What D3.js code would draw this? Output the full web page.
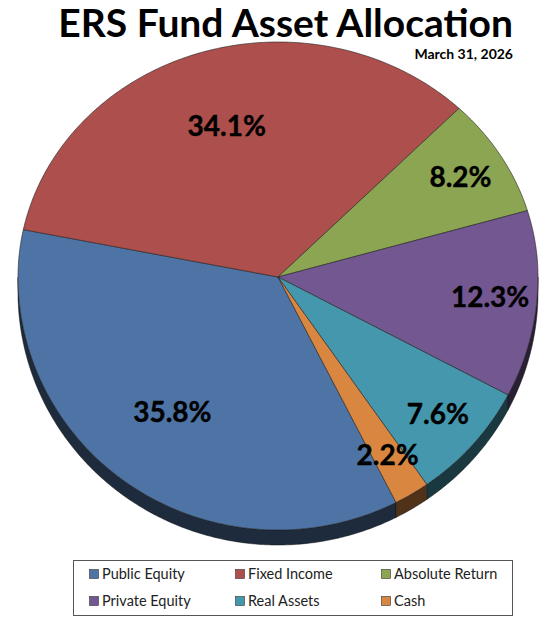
<!DOCTYPE html>
<html>
  <head>
    <meta charset="utf-8">
    <title></title>
    <script src="https://d3js.org/d3.v7.min.js"></script>
  </head>

  <style>
    body {
      margin: 0;
      background-color: #ffffff;
    }
    .title {
      font-family: 'Lato', sans-serif;
      font-weight: bold;
      fill: #000;
    }
    .legend text {
      font-family: 'Lato', sans-serif;
      font-size: 14.5px;
      fill: #222;
    }
  </style>

  <body>
    <div id="chart"></div>
    <script>

    // chart data
    var categories = ['Public Equity', 'Fixed Income', 'Absolute Return', 'Private Equity', 'Real Assets', 'Cash'];
    var values = [35.8, 34.1, 8.2, 12.3, 7.6, 2.2];
    var labels = ['35.8%', '34.1%', '8.2%', '12.3%', '7.6%', '2.2%'];
    var colors = ['#4e74a6', '#ad4f4c', '#8ca553', '#735791', '#4497ad', '#d98740'];

    var width = 556, height = 619;
    // tilted pie geometry (top half a bit flatter than bottom half)
    var cx = 278, cy = 277;
    var rx = 260, ryTop = 235, ryBot = 253;
    var depth = 15;
    var startDeg = 153;

    var svg = d3.select('#chart').append('svg')
      .attr('width', width)
      .attr('height', height);

    // angle measured clockwise from 12 o'clock
    function pt(a, r, dz) {
      var c = Math.cos(a), s = Math.sin(a);
      return [cx + rx * r * s, cy - (c > 0 ? ryTop : ryBot) * r * c + (dz || 0)];
    }

    function arcPoints(a0, a1, dz) {
      var n = Math.max(2, Math.ceil((a1 - a0) / 0.01));
      var out = [];
      for (var i = 0; i <= n; i++) {
        out.push(pt(a0 + (a1 - a0) * i / n, 1, dz));
      }
      return out;
    }

    var pie = d3.pie()
      .sort(null)
      .value(function(d) { return d; })
      .startAngle(startDeg * Math.PI / 180)
      .endAngle(startDeg * Math.PI / 180 + 2 * Math.PI);

    var arcs = pie(values);
    var line = d3.line();

    // side walls - only front half (90deg..270deg) is visible
    var sides = [];
    arcs.forEach(function(d, i) {
      [[Math.PI / 2, 3 * Math.PI / 2], [5 * Math.PI / 2, 7 * Math.PI / 2]].forEach(function(w) {
        var b0 = Math.max(d.startAngle, w[0]), b1 = Math.min(d.endAngle, w[1]);
        if (b1 > b0) sides.push({ i: i, b0: b0, b1: b1 });
      });
    });

    svg.append('g').selectAll('path')
      .data(sides)
      .enter().append('path')
      .attr('d', function(s) {
        var top = arcPoints(s.b0, s.b1, 0);
        var bot = arcPoints(s.b0, s.b1, depth).reverse();
        return line(top.concat(bot)) + 'Z';
      })
      .attr('fill', function(s) { return d3.color(colors[s.i]).darker(2.8); })
      .attr('stroke', '#111')
      .attr('stroke-width', 0.5);

    // top faces
    svg.append('g').selectAll('path')
      .data(arcs)
      .enter().append('path')
      .attr('d', function(d) {
        return line([[cx, cy]].concat(arcPoints(d.startAngle, d.endAngle, 0))) + 'Z';
      })
      .attr('fill', function(d, i) { return colors[i]; })
      .attr('stroke', '#222')
      .attr('stroke-width', 0.6);

    // data labels
    svg.append('g').selectAll('text')
      .data(arcs)
      .enter().append('text')
      .attr('x', function(d) { return pt((d.startAngle + d.endAngle) / 2, d.value > 20 ? 0.67 : 0.82)[0]; })
      .attr('y', function(d) { return pt((d.startAngle + d.endAngle) / 2, d.value > 20 ? 0.67 : 0.82)[1]; })
      .attr('dy', '0.35em')
      .attr('text-anchor', 'middle')
      .style('font-family', 'Lato, sans-serif')
      .style('font-weight', 'bold')
      .style('font-size', '28px')
      .style('stroke', '#000')
      .style('stroke-width', 0.4)
      .text(function(d, i) { return labels[i]; });

    // titles
    svg.append('text')
      .attr('class', 'title')
      .attr('x', 513)
      .attr('y', 37)
      .attr('text-anchor', 'end')
      .style('font-size', '39px')
      .text('ERS Fund Asset Allocation');

    svg.append('text')
      .attr('class', 'title')
      .attr('x', 513)
      .attr('y', 59)
      .attr('text-anchor', 'end')
      .style('font-size', '14px')
      .text('March 31, 2026');

    // legend
    var legend = svg.append('g').attr('class', 'legend');
    legend.append('rect')
      .attr('x', 73.5).attr('y', 560.5)
      .attr('width', 439).attr('height', 55)
      .attr('fill', 'white')
      .attr('stroke', '#555')
      .attr('stroke-width', 1);

    var colX = [89, 235, 381];
    var rowY = [574, 601];
    var items = legend.selectAll('g.item')
      .data(categories)
      .enter().append('g')
      .attr('class', 'item')
      .attr('transform', function(d, i) {
        return 'translate(' + colX[i % 3] + ',' + rowY[Math.floor(i / 3)] + ')';
      });
    items.append('rect')
      .attr('x', 0.5).attr('y', -4.5)
      .attr('width', 9).attr('height', 9)
      .attr('fill', function(d, i) { return colors[i]; })
      .attr('stroke', '#333')
      .attr('stroke-width', 0.6);
    items.append('text')
      .attr('x', 13)
      .attr('dy', '0.35em')
      .text(function(d) { return d; });

    </script>
  </body>
</html>
